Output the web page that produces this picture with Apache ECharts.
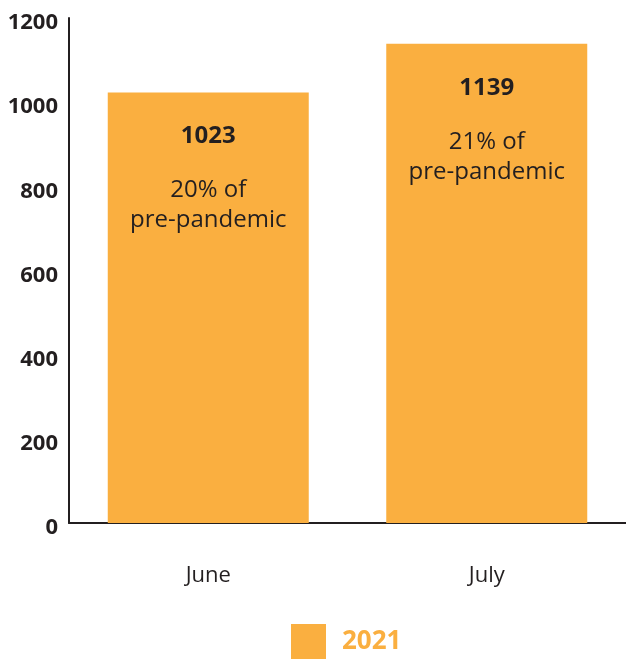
<!DOCTYPE html>
<html>
<head>
<meta charset="utf-8">
<script src="https://cdn.jsdelivr.net/npm/echarts@6/dist/echarts.min.js"></script>
<style>
html,body{margin:0;padding:0;background:#fff;}
#chart{width:626px;height:659px;}
</style>
</head>
<body>
<div id="chart"></div>
<script>
const categories = ['June', 'July'];
const seriesName = '2021';
const values = [1023, 1139];
const shareLabels = ['20% of', '21% of'];
const shareSuffix = 'pre-pandemic';
const yTicks = { min: 0, max: 1200, interval: 200 };

const FONT = '"Open Sans", "Noto Sans", sans-serif';
const ORANGE = '#FAAF40';
const DARK = '#231F20';

const chart = echarts.init(document.getElementById('chart'), null, { renderer: 'canvas' });
chart.setOption({
  animation: false,
  backgroundColor: '#fff',
  textStyle: { fontFamily: FONT },
  grid: { left: 69, right: 0, top: 18, bottom: 136, containLabel: false },
  legend: {
    data: [seriesName],
    left: 291,
    top: 624,
    padding: 0,
    itemWidth: 35,
    itemHeight: 35,
    icon: 'rect',
    textStyle: { color: ORANGE, fontSize: 26, fontWeight: 'bold', fontFamily: FONT, padding: [0, 0, 0, 11] }
  },
  xAxis: {
    type: 'category',
    data: categories,
    axisLine: { lineStyle: { color: DARK, width: 2 } },
    axisTick: { show: false },
    axisLabel: { color: DARK, fontSize: 22, fontFamily: FONT, margin: 42 }
  },
  yAxis: {
    type: 'value',
    min: yTicks.min,
    max: yTicks.max,
    interval: yTicks.interval,
    splitLine: { show: false },
    axisTick: { show: false },
    axisLine: { show: true, lineStyle: { color: DARK, width: 2 } },
    axisLabel: {
      margin: 11,
      formatter: function (v) { return '{t|' + v + '}'; },
      rich: {
        t: { color: DARK, fontSize: 22, fontWeight: 'bold', fontFamily: FONT, padding: [10, 0, 0, 0] }
      }
    }
  },
  series: [{
    name: seriesName,
    type: 'bar',
    data: values,
    barWidth: 201,
    itemStyle: { color: ORANGE },
    label: {
      show: true,
      position: 'insideTop',
      distance: 5,
      formatter: function (p) {
        return '{v|' + p.value + '}\n{p|' + shareLabels[p.dataIndex] + '}\n{p|' + shareSuffix + '}';
      },
      rich: {
        v: { fontSize: 24, fontWeight: 'bold', color: DARK, lineHeight: 78, fontFamily: FONT, align: 'center' },
        p: { fontSize: 24, color: DARK, lineHeight: 30, fontFamily: FONT, align: 'center' }
      }
    }
  }]
});
</script>
</body>
</html>
